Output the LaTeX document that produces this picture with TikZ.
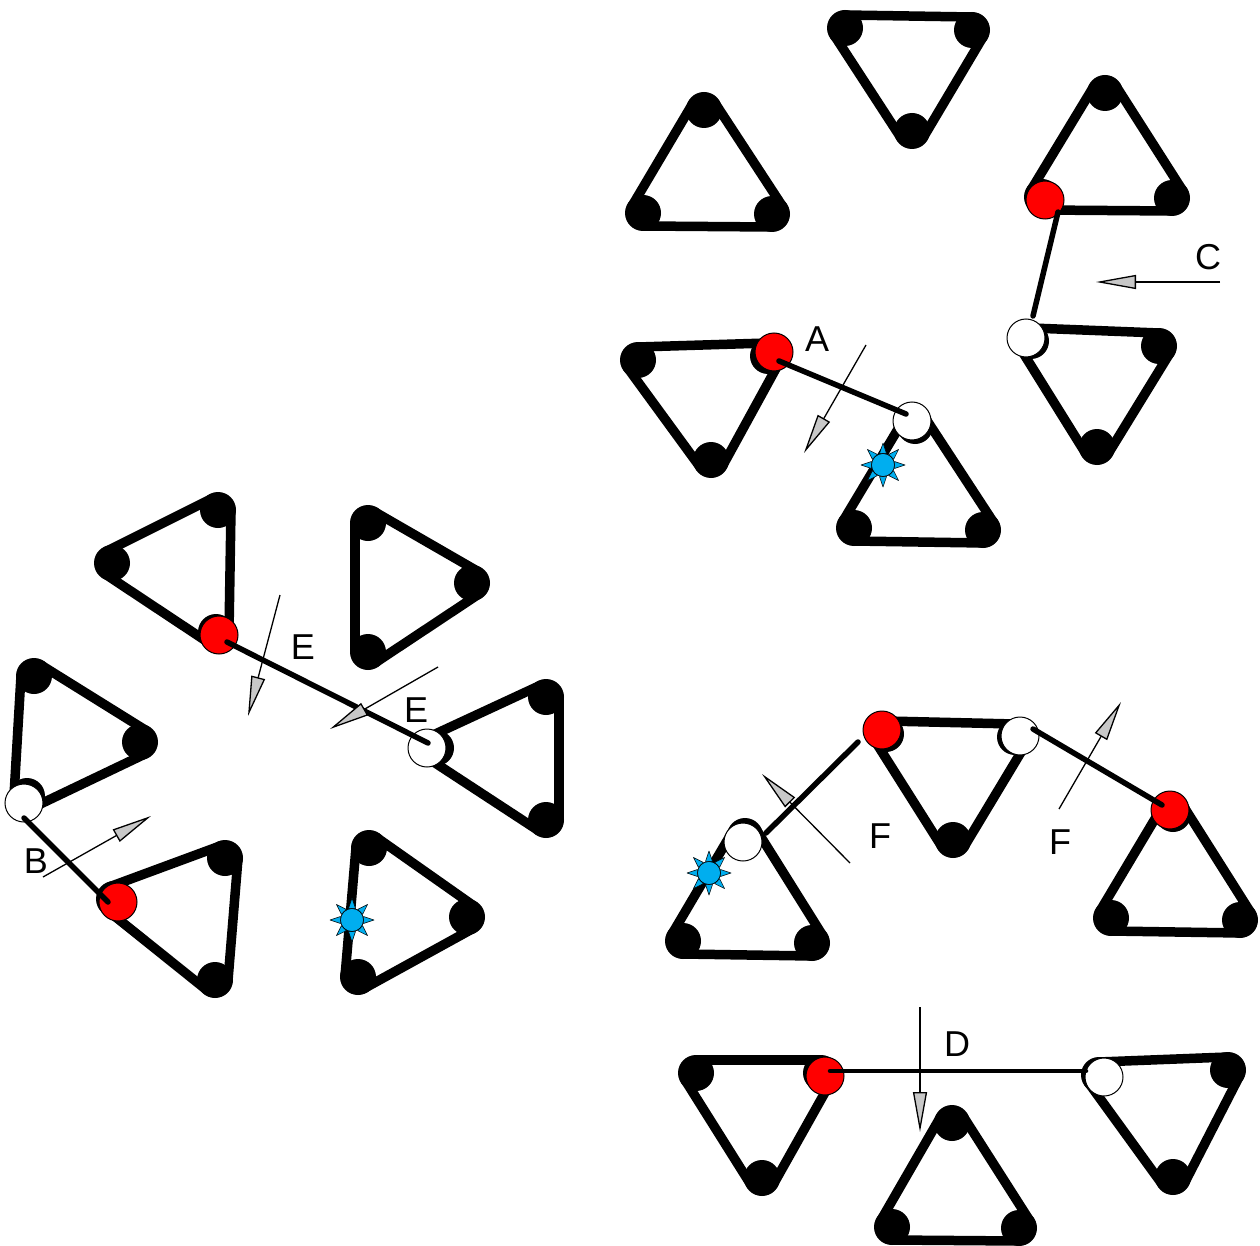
\documentclass[tikz,border=0pt]{standalone}
\usepackage{fontspec}
\setmainfont{Liberation Sans}
\usetikzlibrary{calc,arrows.meta}
\definecolor{sunblue}{RGB}{0,174,239}
\definecolor{tipgray}{RGB}{200,200,200}
\newcommand\beltseg[2]{\draw[belt] ($(#1.center)!13pt!90:(#2.center)$) -- ($(#2.center)!13pt!-90:(#1.center)$);}
\newcommand\belt[3]{\beltseg{#1}{#2}\beltseg{#2}{#3}\beltseg{#3}{#1}}
\newcommand\sunmark[2]{%
  \coordinate (#1) at (#2);
  \foreach \a in {0,45,...,315}{\draw[spike] ($(#1)+(\a:22)$) -- ($(#1)+(\a+17:12)$) -- ($(#1)+(\a-17:12)$) -- cycle;}
  \node[sunc] (#1c) at (#1) {};}
\begin{document}
\begin{tikzpicture}[x=1pt,y=-1pt,
 disk/.style={circle,fill=black,minimum size=36pt,inner sep=0pt},
 redc/.style={circle,draw=black,line width=1pt,fill=red,minimum size=38pt,inner sep=0pt},
 whitec/.style={redc,fill=white},
 belt/.style={line width=9.5pt,line cap=round},
 link/.style={line width=5.5pt,line cap=round},
 force/.style={line width=1.3pt,-{Triangle[length=40pt,width=14pt,fill=tipgray]}},
 lab/.style={font=\fontsize{36}{40}\selectfont,inner sep=0pt},
 sunc/.style={circle,draw=black,line width=0.6pt,fill=sunblue,minimum size=23pt,inner sep=0pt},
 spike/.style={draw=black,line width=0.5pt,fill=sunblue,line join=round}]
\useasboundingbox (0,0) rectangle (1260,1246);

% ---------- top-right cluster ----------
\node[disk] (t1a) at (845,28) {};  \node[disk] (t1b) at (972,30) {};  \node[disk] (t1c) at (912,131) {};
\node[disk] (t2a) at (704,110) {}; \node[disk] (t2b) at (772,214) {}; \node[disk] (t2c) at (643,213) {};
\node[disk] (t3a) at (1105,93) {}; \node[disk] (t3b) at (1172,198) {}; \node[disk] (t3c) at (1042,197) {};
\node[disk] (t4a) at (1031,341) {}; \node[disk] (t4b) at (1159,346) {}; \node[disk] (t4c) at (1097,447) {};
\node[disk] (t5a) at (915,426) {}; \node[disk] (t5b) at (983,530) {}; \node[disk] (t5c) at (854,528) {};
\node[disk] (t6a) at (638,360) {}; \node[disk] (t6b) at (768,356) {}; \node[disk] (t6c) at (711,460) {};
\belt{t1a}{t1b}{t1c} \belt{t2a}{t2b}{t2c} \belt{t3a}{t3b}{t3c}
\belt{t4a}{t4b}{t4c} \belt{t5a}{t5b}{t5c} \belt{t6a}{t6b}{t6c}

% ---------- left cluster ----------
\node[disk] (l1a) at (218,510) {}; \node[disk] (l1b) at (216,632) {}; \node[disk] (l1c) at (112,563) {};
\node[disk] (l2a) at (34,676) {};  \node[disk] (l2b) at (140,742) {}; \node[disk] (l2c) at (27,796) {};
\node[disk] (l3a) at (114,899) {}; \node[disk] (l3b) at (225,858) {}; \node[disk] (l3c) at (215,980) {};
\node[disk] (l4a) at (368,523) {}; \node[disk] (l4b) at (472,583) {}; \node[disk] (l4c) at (368,652) {};
\node[disk] (l5a) at (436,748) {}; \node[disk] (l5b) at (546,697) {}; \node[disk] (l5c) at (546,820) {};
\node[disk] (l6a) at (369,848) {}; \node[disk] (l6b) at (467,917) {}; \node[disk] (l6c) at (358,977) {};
\belt{l1a}{l1b}{l1c} \belt{l2a}{l2b}{l2c} \belt{l3a}{l3b}{l3c}
\belt{l4a}{l4b}{l4c} \belt{l5a}{l5b}{l5c} \belt{l6a}{l6b}{l6c}

% ---------- F group ----------
\node[disk] (fla) at (745,836) {}; \node[disk] (flb) at (812,943) {}; \node[disk] (flc) at (683,941) {};
\node[disk] (fma) at (886,734) {}; \node[disk] (fmb) at (1015,737) {}; \node[disk] (fmc) at (953,840) {};
\node[disk] (fra) at (1173,814) {}; \node[disk] (frb) at (1240,920) {}; \node[disk] (frc) at (1111,918) {};
\belt{fla}{flb}{flc} \belt{fma}{fmb}{fmc} \belt{fra}{frb}{frc}

% ---------- D group ----------
\node[disk] (dla) at (696,1073) {}; \node[disk] (dlb) at (821,1073) {}; \node[disk] (dlc) at (762,1178) {};
\node[disk] (dma) at (952,1123) {}; \node[disk] (dmb) at (1019,1228) {}; \node[disk] (dmc) at (892,1227) {};
\node[disk] (dra) at (1099,1075) {}; \node[disk] (drb) at (1228,1070) {}; \node[disk] (drc) at (1173,1177) {};
\belt{dla}{dlb}{dlc} \belt{dma}{dmb}{dmc} \belt{dra}{drb}{drc}

% ---------- coloured pulleys ----------
\node[redc] (r1) at (1045,200) {};
\node[whitec] (w1) at (1026,338) {};
\node[redc] (r2) at (774,352) {};
\node[whitec] (w2) at (912,421) {};
\node[redc] (r3) at (219,635) {};
\node[whitec] (w3) at (24,803) {};
\node[redc] (r4) at (118,902) {};
\node[whitec] (w4) at (427,748) {};
\node[whitec] (w5) at (743,842) {};
\node[redc] (r5) at (882,730) {};
\node[whitec] (w6) at (1020,736) {};
\node[redc] (r6) at (1170,810) {};
\node[redc] (r7) at (825,1076) {};
\node[whitec] (w7) at (1104,1077) {};

% ---------- links ----------
\coordinate (cA1) at (1058,212); \coordinate (cA2) at (1033,316);
\draw[link] (cA1) -- (cA2);
\coordinate (aA1) at (779,361); \coordinate (aA2) at (906,414);
\draw[link] (aA1) -- (aA2);
\coordinate (eA1) at (227,642); \coordinate (eA2) at (428,743);
\draw[link] (eA1) -- (eA2);
\coordinate (bA1) at (24,818); \coordinate (bA2) at (108,902);
\draw[link] (bA1) -- (bA2);
\coordinate (fA1) at (858,742); \coordinate (fA2) at (766,833);
\draw[link] (fA1) -- (fA2);
\coordinate (fB1) at (1033,729); \coordinate (fB2) at (1162,805);
\draw[link] (fB1) -- (fB2);
\coordinate (dA1) at (830,1071); \coordinate (dA2) at (1086,1071);
\draw[link,line width=4.5pt] (dA1) -- (dA2);

% ---------- force arrows ----------
\coordinate (fcC1) at (1220,282); \coordinate (fcC2) at (1096,282);
\draw[force] (fcC1) -- (fcC2);
\coordinate (fcA1) at (866,345); \coordinate (fcA2) at (804,453);
\draw[force] (fcA1) -- (fcA2);
\coordinate (fcE1) at (280,595); \coordinate (fcE2) at (248,716);
\draw[force] (fcE1) -- (fcE2);
\coordinate (fcE3) at (438,667); \coordinate (fcE4) at (330,729);
\draw[force] (fcE3) -- (fcE4);
\coordinate (fcB1) at (43,877); \coordinate (fcB2) at (151,816);
\draw[force] (fcB1) -- (fcB2);
\coordinate (fcF1) at (850,863); \coordinate (fcF2) at (762,774);
\draw[force] (fcF1) -- (fcF2);
\coordinate (fcF3) at (1059,809); \coordinate (fcF4) at (1121,702);
\draw[force] (fcF3) -- (fcF4);
\coordinate (fcD1) at (920,1007); \coordinate (fcD2) at (920,1132);
\draw[force] (fcD1) -- (fcD2);

% ---------- sun markers ----------
\sunmark{s1}{883,465}
\sunmark{s2}{709,873}
\sunmark{s3}{352,920}

% ---------- labels ----------
\node[lab] (labA) at (817,339) {A};
\node[lab] (labC) at (1208,257) {C};
\node[lab] (labB) at (36,861) {B};
\node[lab] (labE1) at (303,647) {E};
\node[lab] (labE2) at (416,710) {E};
\node[lab] (labF1) at (880,836) {F};
\node[lab] (labF2) at (1060,842) {F};
\node[lab] (labD) at (957,1044) {D};
\end{tikzpicture}
\end{document}
